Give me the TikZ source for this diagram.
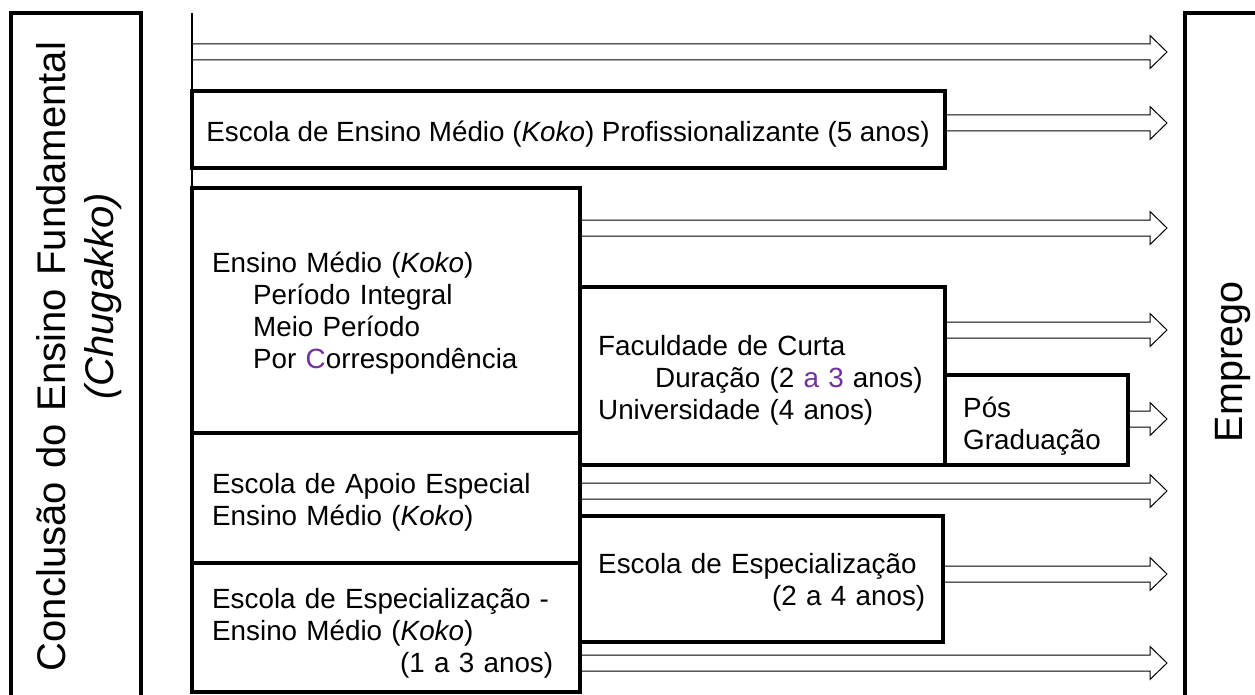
\documentclass[tikz,border=0pt]{standalone}
\usepackage{fontspec}
\setmainfont{Liberation Sans}
\usetikzlibrary{calc}
\definecolor{purp}{HTML}{7030A0}
\newcommand{\bodyfont}{\fontsize{27.8pt}{32.3pt}\selectfont}
\begin{document}
\begin{tikzpicture}[x=1pt,y=-1pt,
  box/.style={draw,line width=3.5pt,inner sep=0pt,outer sep=0pt},
  bigbox/.style={draw,line width=4pt,inner sep=0pt,outer sep=0pt},
  txt/.style={font=\bodyfont,inner sep=0pt,anchor=base west,align=left,text width=#1},
  harrow/.style={line width=1pt,line join=miter,to path={let \p1=(\tikztostart), \p2=(\tikztotarget) in
     (\x1,\y2+8pt) -- (\x2-17pt,\y2+8pt) -- (\x2-17pt,\y2+16.5pt) -- (\x2,\y2)
     -- (\x2-17pt,\y2-16.5pt) -- (\x2-17pt,\y2-8pt) -- (\x1,\y2-8pt)}},
]
\useasboundingbox (0,0) rectangle (1255,695);
\fill[white] (0,0) rectangle (1255,695);

% outer columns
\node[bigbox,minimum width=130pt,minimum height=710pt] (fund) at (75.5,368) {};
\node[bigbox,minimum width=110pt,minimum height=710pt] (emp) at (1240,368) {};
\node[font=\fontsize{40pt}{48pt}\selectfont,rotate=90,anchor=base,align=center,text width=700pt,inner sep=0pt]
  (fundtxt) at (65,356.5) {Conclusão do Ensino Fundamental\\\hspace*{120pt}\textit{(Chugakko)}};
\node[font=\fontsize{39.5pt}{47pt}\selectfont,rotate=90,anchor=base,inner sep=0pt]
  (emptxt) at (1242,362) {Emprego};

% boxes
\node[box,minimum width=753pt,minimum height=77pt] (pro) at (568.5,129.5) {};
\node[box,minimum width=388pt,minimum height=245pt] (em) at (386,310.5) {};
\node[box,minimum width=365pt,minimum height=178pt] (fac) at (762.5,376) {};
\node[box,minimum width=183pt,minimum height=90pt] (pos) at (1036.5,420) {};
\node[box,minimum width=388pt,minimum height=130pt] (apo) at (386,498) {};
\node[box,minimum width=363pt,minimum height=126pt] (esp) at (761.5,579) {};
\node[box,minimum width=388pt,minimum height=129pt] (bot) at (386,627.5) {};

% texts
\node[font=\bodyfont,inner sep=0pt,anchor=base] (protxt) at (568,142)
  {Escola de Ensino Médio (\textit{Koko}) Profissionalizante (5 anos)};
\node[txt=360pt] (emtxt) at (212,272) {Ensino Médio (\textit{Koko})\\\hspace*{41pt}Período Integral\\\hspace*{41pt}Meio Período\\\hspace*{41pt}Por {\color{purp}C}orrespondência};
\node[txt=340pt] (factxt) at (598,355) {Faculdade de Curta\\\hspace*{57pt}Duração (2 {\color{purp}a 3} anos)\\Universidade (4 anos)};
\node[txt=170pt] (postxt) at (963,417) {Pós\\Graduação};
\node[txt=360pt] (apotxt) at (212,493) {Escola de Apoio Especial\\Ensino Médio (\textit{Koko})};
\node[txt=327pt] (esptxt) at (598,573) {Escola de Especialização\\\hspace*{\fill}(2 a 4 anos)};
\node[txt=341pt] (bottxt) at (212,608) {Escola de Especialização -\\Ensino Médio (\textit{Koko})\\\hspace*{\fill}(1 a 3 anos)};

% thin vertical line
\coordinate (vtop) at (192,13);
\draw[line width=1.2pt] (vtop) -- (em.north west);

% arrow ends
\coordinate (t1) at (1167,52);
\coordinate (t2) at (1167,123);
\coordinate (t3) at (1167,228);
\coordinate (t4) at (1167,330);
\coordinate (t5) at (1167,419);
\coordinate (t6) at (1167,491);
\coordinate (t7) at (1167,574);
\coordinate (t8) at (1167,663);

\draw[harrow] (em.north west) to (t1);
\draw[harrow] (pro.east) to (t2);
\draw[harrow] (em.east) to (t3);
\draw[harrow] (fac.east) to (t4);
\draw[harrow] (pos.east) to (t5);
\draw[harrow] (apo.east) to (t6);
\draw[harrow] (esp.east) to (t7);
\draw[harrow] (bot.east) to (t8);
\end{tikzpicture}
\end{document}
